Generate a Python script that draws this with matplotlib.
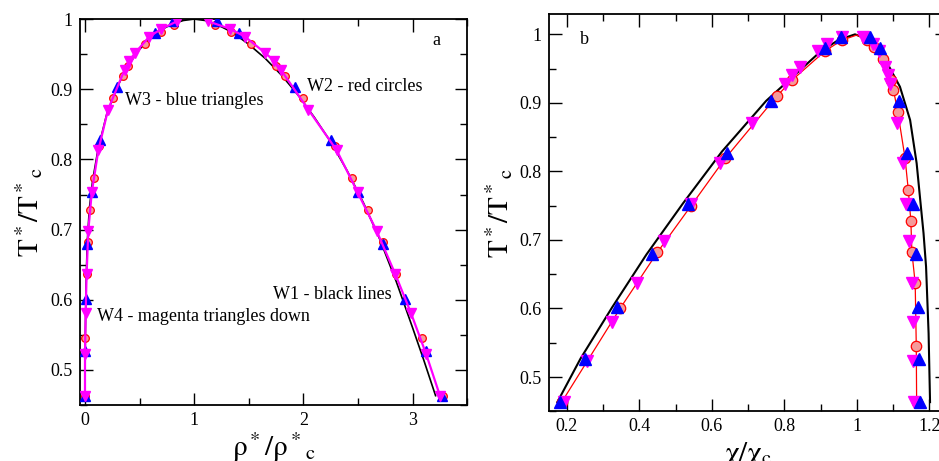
import numpy as np
import matplotlib
matplotlib.use("Agg")
import matplotlib.pyplot as plt
from matplotlib.ticker import MultipleLocator, FuncFormatter

plt.rcParams['font.family'] = ['Liberation Serif', 'DejaVu Serif']
plt.rcParams['mathtext.fontset'] = 'stix'

# ---- panel a : T*/T*c vs rho*/rho*c ----
# W1 black line
a_w1_x = [0.0, 0.003, 0.01, 0.02, 0.04, 0.07, 0.12, 0.2, 0.3, 0.4, 0.5, 0.6, 0.7, 0.8, 0.9, 1.0,
          1.1, 1.2, 1.35, 1.5, 1.65, 1.8, 1.95, 2.1, 2.25, 2.4, 2.55, 2.7, 2.85, 3.0, 3.1, 3.21]
a_w1_t = [0.4634, 0.55, 0.62, 0.68, 0.73, 0.77, 0.815, 0.865, 0.905, 0.935, 0.957, 0.973, 0.985, 0.993, 0.998, 1.0,
          0.998, 0.993, 0.981, 0.964, 0.944, 0.92, 0.892, 0.86, 0.825, 0.784, 0.738, 0.686, 0.626, 0.56, 0.515, 0.4634]

# W2 red circles
t_circ = [0.4634, 0.5456, 0.637, 0.682, 0.728, 0.773, 0.8196, 0.887, 0.919, 0.933, 0.964, 0.982, 0.9915]
a_circ_gas = [0.0, 0.0, 0.015, 0.027, 0.049, 0.085, 0.131, 0.259, 0.348, 0.397, 0.549, 0.693, 0.812]
a_circ_liq = [3.275, 3.083, 2.845, 2.732, 2.589, 2.445, 2.286, 2.0, 1.832, 1.749, 1.52, 1.334, 1.19]

# W3 blue triangles
t_up = [0.4634, 0.527, 0.6016, 0.679, 0.753, 0.827, 0.903, 0.980, 0.9967]
a_up_gas = [0.0, 0.0, 0.009, 0.021, 0.067, 0.14, 0.29, 0.641, 0.81]
a_up_liq = [3.266, 3.123, 2.93, 2.732, 2.503, 2.256, 1.923, 1.41, 1.206]

# W4 magenta triangles down
t_down = [0.4634, 0.523, 0.581, 0.637, 0.698, 0.753, 0.813, 0.871, 0.928, 0.94, 0.952, 0.975, 0.986, 0.9967]
a_down_gas = [0.0, 0.0, 0.006, 0.015, 0.03, 0.062, 0.122, 0.211, 0.363, 0.402, 0.46, 0.588, 0.70, 0.84]
a_down_liq = [3.25, 3.123, 2.985, 2.84, 2.671, 2.497, 2.305, 2.045, 1.792, 1.735, 1.648, 1.465, 1.33, 1.13]

# ---- panel b : T*/T*c vs chi/chi_c ----
b_w1_x = [0.174, 0.238, 0.325, 0.42, 0.52, 0.628, 0.75, 0.848, 0.9, 0.95, 0.995,
          1.03, 1.064, 1.09, 1.119, 1.147, 1.165, 1.175, 1.184, 1.191, 1.198, 1.202]
b_w1_t = [0.4634, 0.527, 0.6016, 0.679, 0.753, 0.829, 0.903, 0.95, 0.975, 0.992, 1.0,
          0.993, 0.975, 0.952, 0.9235, 0.875, 0.812, 0.758, 0.71, 0.661, 0.5637, 0.4634]

b_circ_gas_x = [0.186, 0.347, 0.45, 0.543, 0.637, 0.779, 0.821, 0.913, 0.959]
b_circ_gas_t = [0.4634, 0.600, 0.682, 0.750, 0.819, 0.9096, 0.933, 0.976, 0.9915]
b_red_top = [1.0, 0.999]
b_circ_liq_x = [1.028, 1.048, 1.072, 1.094, 1.101, 1.113, 1.133, 1.142, 1.149, 1.152, 1.161, 1.164, 1.165]
b_circ_liq_t = [0.9915, 0.982, 0.9644, 0.933, 0.919, 0.887, 0.8196, 0.773, 0.728, 0.682, 0.637, 0.5456, 0.4634]

b_up_gas = [0.18, 0.2506, 0.338, 0.4345, 0.5356, 0.643, 0.763, 0.912, 0.956]
b_up_liq = [1.175, 1.172, 1.17, 1.164, 1.154, 1.138, 1.115, 1.064, 1.035]

b_down_gas = [0.191, 0.255, 0.324, 0.393, 0.467, 0.542, 0.623, 0.71, 0.802, 0.821, 0.844, 0.893, 0.917, 0.959]
b_down_liq = [1.159, 1.156, 1.154, 1.152, 1.145, 1.135, 1.128, 1.112, 1.092, 1.087, 1.078, 1.06, 1.046, 1.016]

circ_face = '#f59a9a'

fig = plt.figure(figsize=(9.39, 4.61), dpi=100)
axa = fig.add_axes([0.0847, 0.1213, 0.4129, 0.8373])
axb = fig.add_axes([0.5843, 0.1078, 0.4247, 0.8623])

# panel a
axa.plot(a_w1_x, a_w1_t, color='black', lw=1.2, zorder=2)
axa.plot(a_circ_gas + a_circ_liq, t_circ + t_circ, ls='none', marker='o', ms=5.5,
         mfc=circ_face, mec='red', mew=0.9, zorder=3)
axa.plot(a_up_gas + a_up_liq, t_up + t_up, ls='none', marker='^', ms=6.5,
         color='blue', zorder=4)
for xs in (a_down_gas, a_down_liq):
    axa.plot(xs, t_down, color='magenta', lw=1.6, marker='v', ms=6.5, zorder=5)

axa.set_xlim(-0.05, 3.5)
axa.set_ylim(0.45, 1.0)
axa.xaxis.set_major_locator(MultipleLocator(1))
axa.xaxis.set_minor_locator(MultipleLocator(0.5))
axa.yaxis.set_major_locator(MultipleLocator(0.1))
axa.yaxis.set_minor_locator(MultipleLocator(0.05))

axa.text(3.22, 0.97, 'a', ha='center', va='center', fontsize=13)
axa.text(2.03, 0.9035, 'W2 - red circles', ha='left', va='center', fontsize=13)
axa.text(0.366, 0.8835, 'W3 - blue triangles', ha='left', va='center', fontsize=13)
axa.text(1.72, 0.607, 'W1 - black lines', ha='left', va='center', fontsize=13)
axa.text(0.11, 0.576, 'W4 - magenta triangles down', ha='left', va='center', fontsize=13)

axa.set_ylabel(r'$\mathrm{T^*/T^*{}_c}$', fontsize=21)
axa.set_xlabel(r'$\mathrm{ρ^*/ρ^*{}_c}$', fontsize=21)
axa.yaxis.set_label_coords(-0.09, 0.5)
axa.xaxis.set_label_coords(0.5, -0.065)

# panel b
axb.plot(b_w1_x, b_w1_t, color='black', lw=1.5, zorder=2)
axb.plot(b_circ_gas_x + [b_red_top[0]] + b_circ_liq_x,
         b_circ_gas_t + [b_red_top[1]] + b_circ_liq_t, color='red', lw=0.9, zorder=3)
axb.plot(b_circ_gas_x + b_circ_liq_x, b_circ_gas_t + b_circ_liq_t, ls='none', marker='o', ms=7.5,
         mfc=circ_face, mec='red', mew=0.9, zorder=3)
axb.plot(b_down_gas + b_down_liq, t_down + t_down, ls='none', marker='v', ms=8,
         color='magenta', zorder=4)
axb.plot(b_up_gas + b_up_liq, t_up + t_up, ls='none', marker='^', ms=8,
         color='blue', zorder=5)

axb.set_xlim(0.15, 1.25)
axb.set_ylim(0.45, 1.03)
axb.xaxis.set_major_locator(MultipleLocator(0.2))
axb.xaxis.set_minor_locator(MultipleLocator(0.1))
axb.yaxis.set_major_locator(MultipleLocator(0.1))
axb.yaxis.set_minor_locator(MultipleLocator(0.05))
axb.text(0.248, 0.992, 'b', ha='center', va='center', fontsize=13)

axb.set_ylabel(r'$\mathrm{T^*/T^*{}_c}$', fontsize=21)
axb.set_xlabel(r'$\mathrm{χ/χ_c}$', fontsize=21)
axb.yaxis.set_label_coords(-0.084, 0.5)
axb.xaxis.set_label_coords(0.5, -0.072)

fmt = FuncFormatter(lambda v, p: '%g' % round(v, 3))
for ax in (axa, axb):
    ax.xaxis.set_major_formatter(fmt)
    ax.yaxis.set_major_formatter(fmt)
    ax.tick_params(which='both', direction='in', top=True, right=True, labelsize=13, pad=5, width=1)
    ax.tick_params(which='major', length=9)
    ax.tick_params(which='minor', length=5)
    for s in ax.spines.values():
        s.set_linewidth(1.3)

fig.savefig('out.png', dpi=100)
